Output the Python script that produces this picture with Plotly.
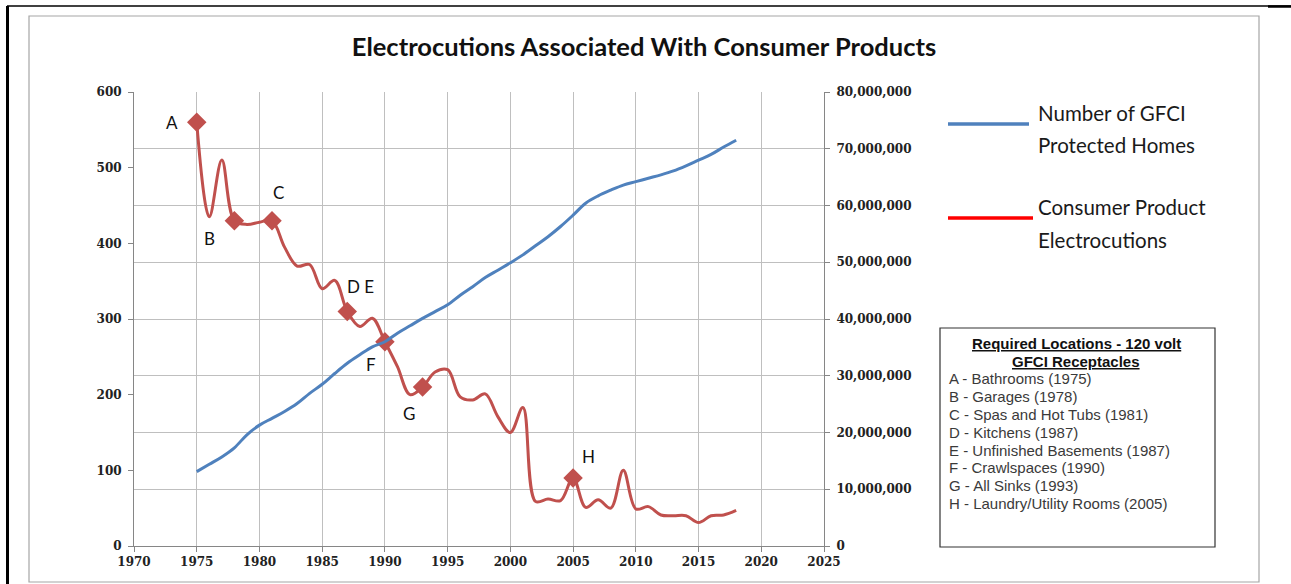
import plotly.graph_objects as go

# ---------------- data ----------------
years = list(range(1975, 2019))
electrocutions = [560, 435, 510, 430, 425, 428, 430, 395, 370, 372, 340, 351, 310, 290, 301,
                  270, 237, 200, 210, 230, 233, 197, 193, 201, 171, 150, 183, 59, 62, 60,
                  90, 51, 61, 50, 100, 49, 52, 41, 40, 40, 31, 40, 41, 47]
gfci_homes = [13.1e6, 14.4e6, 15.7e6, 17.3e6, 19.6e6, 21.3e6, 22.5e6, 23.7e6, 25.1e6, 26.9e6,
              28.5e6, 30.4e6, 32.2e6, 33.7e6, 35.1e6, 36.0e6, 37.5e6, 38.8e6, 40.1e6, 41.3e6,
              42.5e6, 44.2e6, 45.7e6, 47.3e6, 48.6e6, 49.9e6, 51.3e6, 52.9e6, 54.5e6, 56.3e6,
              58.3e6, 60.4e6, 61.7e6, 62.7e6, 63.6e6, 64.2e6, 64.8e6, 65.4e6, 66.1e6, 67.0e6,
              68.0e6, 69.0e6, 70.3e6, 71.5e6]

marker_years = [1975, 1978, 1981, 1987, 1990, 1993, 2005]
marker_labels = ["A", "B", "C", "D E", "F", "G", "H"]
label_shifts = [(-25, 0), (-25, -18), (6, 28), (13, 25), (-14, -23), (-14, -26), (15, 21)]

x_ticks = list(range(1970, 2030, 5))
left_ticks = list(range(0, 700, 100))
right_ticks = [i * 10_000_000 for i in range(9)]

box_title = ["Required Locations - 120 volt", "GFCI Receptacles"]
box_items = ["A - Bathrooms (1975)", "B - Garages (1978)", "C - Spas and Hot Tubs (1981)",
             "D - Kitchens (1987)", "E - Unfinished Basements (1987)", "F - Crawlspaces (1990)",
             "G - All Sinks (1993)", "H - Laundry/Utility Rooms (2005)"]

legend_blue = ["Number of GFCI", "Protected Homes"]
legend_red = ["Consumer Product", "Electrocutions"]

title = "Electrocutions Associated With Consumer Products"

# ---------------- layout geometry ----------------
WIDTH, HEIGHT = 1291, 584
L, R, T, B = 134, 824, 92, 546
PW, PH = R - L, B - T


def px(x):
    return (x - L) / PW


def py(y):
    return (B - y) / PH


RED = "#C0504D"
BLUE = "#4F81BD"
AXIS = "#868686"
GRID = "#BFBFBF"

fig = go.Figure()

fig.add_trace(go.Scatter(x=years, y=gfci_homes, yaxis="y2", mode="lines",
                         line=dict(color=BLUE, width=3, shape="spline"),
                         showlegend=False, hoverinfo="skip"))
fig.add_trace(go.Scatter(x=years, y=electrocutions, mode="lines",
                         line=dict(color=RED, width=3, shape="spline"),
                         showlegend=False, hoverinfo="skip"))

mk_y = [electrocutions[years.index(yr)] for yr in marker_years]
fig.add_trace(go.Scatter(x=marker_years, y=mk_y, mode="markers",
                         marker=dict(symbol="diamond", size=15, color=RED),
                         showlegend=False, hoverinfo="skip"))

annotations = []
for yr, val, lab, (dx, dy) in zip(marker_years, mk_y, marker_labels, label_shifts):
    annotations.append(dict(x=yr, y=val, xref="x", yref="y", text=lab, showarrow=False,
                            xshift=dx, yshift=dy,
                            font=dict(family="Lato", size=17, color="#111111")))

# legend (drawn)
leg_font = dict(family="Lato", size=20.5, color="#1a1a1a")
for i, t in enumerate(legend_blue):
    annotations.append(dict(x=px(1036), y=py(113 + 32 * i), xref="paper", yref="paper",
                            text=t, showarrow=False, xanchor="left", yanchor="middle",
                            font=leg_font))
for i, t in enumerate(legend_red):
    annotations.append(dict(x=px(1036), y=py(207 + 33 * i), xref="paper", yref="paper",
                            text=t, showarrow=False, xanchor="left", yanchor="middle",
                            font=leg_font))

# text box
for i, t in enumerate(box_title):
    annotations.append(dict(x=px(1076), y=py(343 + 18 * i), xref="paper", yref="paper",
                            text="<b><u>" + t + "</u></b>", showarrow=False,
                            xanchor="center", yanchor="middle",
                            font=dict(family="Liberation Sans", size=15, color="#111111")))
for i, t in enumerate(box_items):
    annotations.append(dict(x=px(947), y=py(379 + 17.75 * i), xref="paper", yref="paper",
                            text=t, showarrow=False, xanchor="left", yanchor="middle",
                            font=dict(family="Liberation Sans", size=15, color="#3a3a3a")))

shapes = [
    # chart area border
    dict(type="rect", xref="paper", yref="paper", x0=px(29), x1=px(1259), y0=py(582), y1=py(16),
         line=dict(color="#A6A6A6", width=1.2), layer="below"),
    # page frame lines
    dict(type="line", xref="paper", yref="paper", x0=px(7), x1=px(1291), y0=py(6), y1=py(6),
         line=dict(color="black", width=1.5)),
    dict(type="line", xref="paper", yref="paper", x0=px(1268), x1=px(1291), y0=py(6.5), y1=py(6.5),
         line=dict(color="black", width=2.5)),
    dict(type="line", xref="paper", yref="paper", x0=px(7.5), x1=px(7.5), y0=py(6), y1=py(590),
         line=dict(color="black", width=3)),
    # legend lines
    dict(type="line", xref="paper", yref="paper", x0=px(948), x1=px(1029), y0=py(124), y1=py(124),
         line=dict(color=BLUE, width=3.5)),
    dict(type="line", xref="paper", yref="paper", x0=px(948), x1=px(1033), y0=py(218), y1=py(218),
         line=dict(color="#FF0000", width=3.5)),
    # text box
    dict(type="rect", xref="paper", yref="paper", x0=px(940), x1=px(1215), y0=py(547), y1=py(328),
         line=dict(color="#333333", width=1.2)),
]

tickfont = dict(family="DejaVu Serif", size=12, color="#222222", weight="bold")

fig.update_layout(
    width=WIDTH, height=HEIGHT,
    margin=dict(l=L, r=WIDTH - R, t=T, b=HEIGHT - B, pad=0),
    paper_bgcolor="white", plot_bgcolor="white",
    title=dict(text="<b>" + title + "</b>", x=644 / WIDTH, xanchor="center",
               y=1 - 47 / HEIGHT, yanchor="middle", yref="container",
               font=dict(family="Lato", size=25.5, color="#111111")),
    xaxis=dict(range=[1970, 2025], tickvals=x_ticks, showgrid=True, gridcolor=GRID, gridwidth=1,
               showline=True, linecolor=AXIS, linewidth=1, ticks="outside", ticklen=5,
               tickcolor=AXIS, tickfont=tickfont, zeroline=False, mirror=False),
    yaxis=dict(range=[0, 600], tickvals=left_ticks, showgrid=False, showline=True,
               linecolor=AXIS, linewidth=1, ticks="outside", ticklen=5, tickcolor=AXIS,
               tickfont=tickfont, zeroline=False, ticklabelstandoff=4),
    yaxis2=dict(range=[0, 80_000_000], tickvals=right_ticks, tickformat=",", overlaying="y",
                side="right", showgrid=True, gridcolor=GRID, gridwidth=1, showline=True,
                linecolor=AXIS, linewidth=1, ticks="outside", ticklen=5, tickcolor=AXIS,
                tickfont=tickfont, zeroline=False, ticklabelstandoff=4),
    annotations=annotations,
    shapes=shapes,
)

fig.write_html("out.html",
               config={"displayModeBar": False},
               post_script="document.body.style.margin='0';document.body.style.padding='0';"
                           "document.documentElement.style.overflow='hidden';")
